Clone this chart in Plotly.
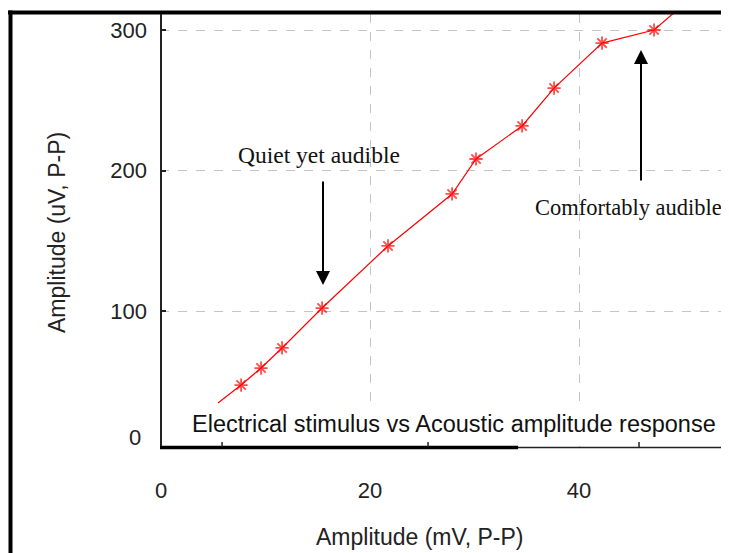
import plotly.graph_objects as go

# ---- data ----
stim_mv = [5.45, 7.66, 9.57, 11.58, 15.41, 21.72, 27.85, 30.14, 34.55, 37.61, 42.2, 47.18, 50.6]
resp_uv = [34.5, 47.3, 59.4, 73.7, 102.1, 146.3, 183.3, 208.2, 231.7, 258.7, 290.7, 300.0, 322.0]
marker_shown = [False, True, True, True, True, True, True, True, True, True, True, True, False]

x_tickvals = [0, 20, 40]
x_ticktext = ["0", "20", "40"]
y_tickvals = [100, 200, 300]
y_ticktext = ["100", "200", "300"]
stub_ticks = [5.84, 25.55, 45.74]

title_text = "Electrical stimulus vs Acoustic amplitude response"
x_title = "Amplitude (mV, P-P)"
y_title = "Amplitude (uV, P-P)"
note_quiet = "Quiet yet audible"
note_comfy = "Comfortably audible"

# ---- geometry (page has an 8px body margin) ----
OFF = 8
W, H = 729 - OFF, 553 - OFF
L, R, T, B = 160 - OFF, 0, 14 - OFF, 106
PW, PH = W - L - R, H - T - B
X_RANGE = [-0.1, 54.35]
Y_RANGE = [3.2, 311.4]

def pxx(px):
    return (px - OFF - L) / PW

def pxy(py):
    return (H - B - (py - OFF)) / PH

SANS = "Liberation Sans, Arial, sans-serif"
SERIF = "Liberation Serif, Times New Roman, serif"

fig = go.Figure()
fig.add_trace(go.Scatter(
    x=stim_mv, y=resp_uv, mode="lines+markers",
    line=dict(color="#ff0000", width=1.2),
    marker=dict(symbol="asterisk-open", size=[11 if m else 0 for m in marker_shown],
                color="#ff0000", line=dict(color="#ff0000", width=1.8)),
    showlegend=False, hoverinfo="x+y",
))

grid = dict(showgrid=True, gridcolor="#c4c4c4", griddash="dash", gridwidth=1, zeroline=False)
fig.update_layout(
    width=W, height=H,
    margin=dict(l=L, r=R, t=T, b=B),
    paper_bgcolor="white", plot_bgcolor="white",
    xaxis=dict(range=X_RANGE, tickvals=x_tickvals, ticktext=x_ticktext, ticks="",
               tickfont=dict(family=SANS, size=22, color="#222"), ticklabelstandoff=28,
               showline=False, **grid),
    yaxis=dict(range=Y_RANGE, tickvals=y_tickvals, ticktext=y_ticktext, ticks="inside",
               ticklen=6, tickwidth=1.5, tickcolor="#222",
               tickfont=dict(family=SANS, size=22, color="#222"), ticklabelstandoff=12,
               showline=False, **grid),
)

shapes = []
# outer frame
shapes.append(dict(type="line", xref="paper", yref="paper", x0=pxx(8), x1=1.0, y0=pxy(12.5), y1=pxy(12.5),
                   line=dict(color="black", width=4)))
shapes.append(dict(type="line", xref="paper", yref="paper", x0=pxx(10.5), x1=pxx(10.5), y0=pxy(10.5), y1=pxy(553),
                   line=dict(color="black", width=4)))
# plot axes
shapes.append(dict(type="line", xref="paper", yref="paper", x0=pxx(161), x1=pxx(161), y0=0, y1=1,
                   line=dict(color="#222", width=2)))
shapes.append(dict(type="line", xref="paper", yref="paper", x0=0, x1=1, y0=pxy(447.5), y1=pxy(447.5),
                   line=dict(color="#222", width=1.5)))
shapes.append(dict(type="line", xref="paper", yref="paper", x0=0, x1=pxx(518), y0=pxy(447.5), y1=pxy(447.5),
                   line=dict(color="black", width=3.5)))
for s in stub_ticks:
    shapes.append(dict(type="line", xref="x", yref="paper", x0=s, x1=s, y0=pxy(447), y1=pxy(442),
                       line=dict(color="#222", width=1.5)))
fig.update_layout(shapes=shapes)

ann = []
ann.append(dict(text=title_text, xref="paper", yref="paper", x=pxx(454), y=pxy(424),
                showarrow=False, font=dict(family=SANS, size=23.5, color="#111"),
                bgcolor="white", borderpad=3, xanchor="center", yanchor="middle"))
ann.append(dict(text=x_title, xref="paper", yref="paper", x=pxx(420), y=pxy(537),
                showarrow=False, font=dict(family=SANS, size=23, color="#222"),
                xanchor="center", yanchor="middle"))
ann.append(dict(text=y_title, xref="paper", yref="paper", x=pxx(57), y=pxy(233),
                showarrow=False, textangle=-90, font=dict(family=SANS, size=23, color="#222"),
                xanchor="center", yanchor="middle"))
ann.append(dict(text="0", xref="paper", yref="paper", x=pxx(143), y=pxy(437),
                showarrow=False, font=dict(family=SANS, size=22, color="#222"),
                xanchor="right", yanchor="middle"))
# text notes
ann.append(dict(text=note_quiet, xref="paper", yref="paper", x=pxx(319), y=pxy(155),
                showarrow=False, font=dict(family=SERIF, size=23.5, color="#111"),
                xanchor="center", yanchor="middle"))
ann.append(dict(text=note_comfy, xref="paper", yref="paper", x=pxx(724), y=pxy(207),
                showarrow=False, font=dict(family=SERIF, size=22.5, color="#111"),
                xanchor="right", yanchor="middle"))
# arrows
ann.append(dict(text="", xref="paper", yref="paper", x=pxx(323), y=pxy(285), ax=0, ay=-105,
                showarrow=True, arrowhead=2, arrowsize=1.4, arrowwidth=2, arrowcolor="black"))
ann.append(dict(text="", xref="paper", yref="paper", x=pxx(641), y=pxy(50), ax=0, ay=132,
                showarrow=True, arrowhead=2, arrowsize=1.4, arrowwidth=2, arrowcolor="black"))
fig.update_layout(annotations=ann)

fig.write_html("out.html")
